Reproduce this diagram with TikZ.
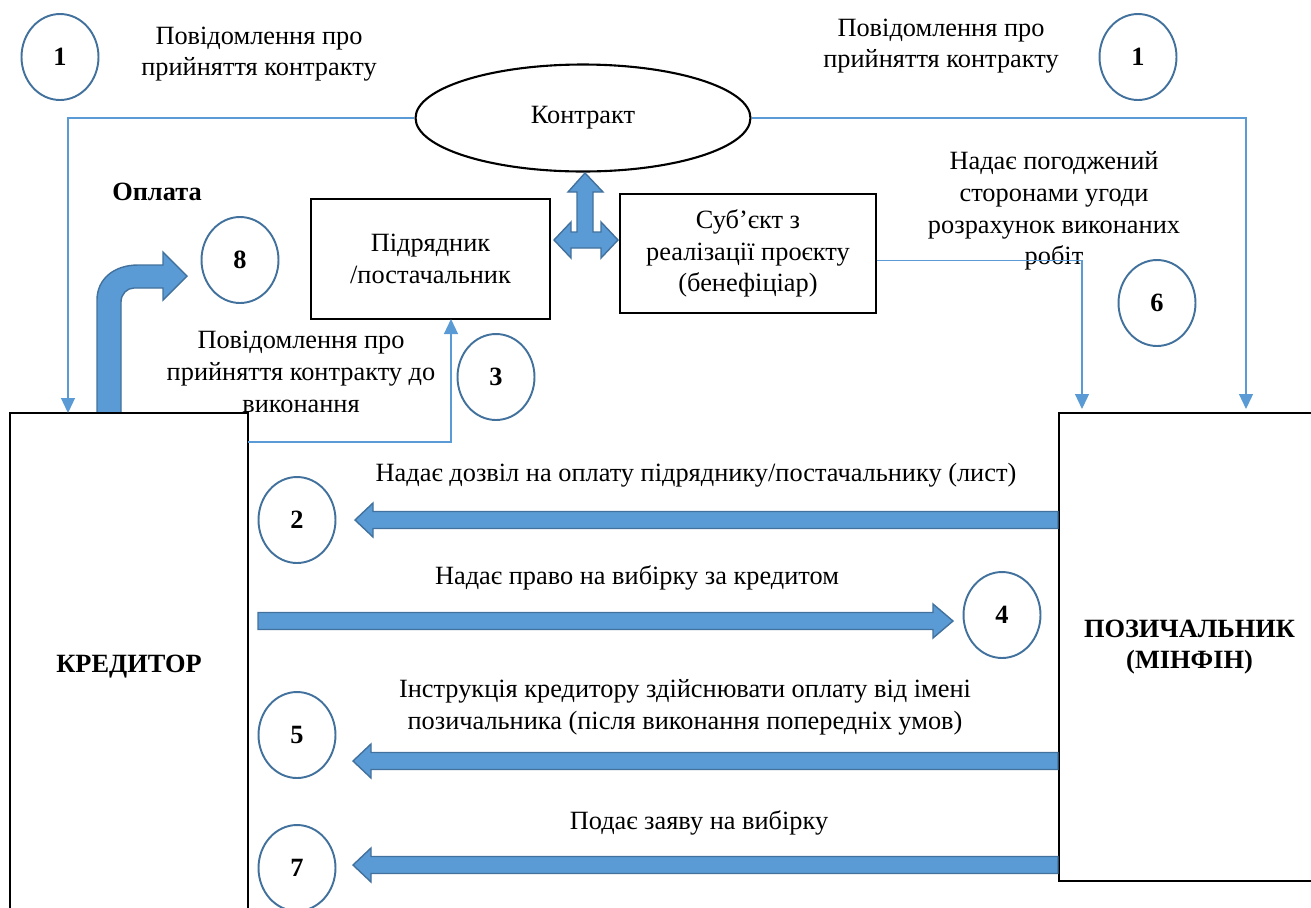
\documentclass[tikz,border=0pt]{standalone}
\usepackage{fontspec}
\setmainfont{Liberation Serif}
\usetikzlibrary{calc,shapes.geometric,arrows.meta}
\definecolor{linkblue}{HTML}{5B9BD5}
\definecolor{ringblue}{HTML}{41719C}
\def\blockarrow(#1)(#2)(#3){\draw[bigarrow] ($(#1)+(0,-8.5)$) -- ($(#2)+(#3,-8.5)$) -- ($(#2)+(#3,-17)$) -- (#2) -- ($(#2)+(#3,17)$) -- ($(#2)+(#3,8.5)$) -- ($(#1)+(0,8.5)$) -- cycle;}
\tikzset{
	numring/.style={ellipse, draw=ringblue, line width=1.1pt, minimum width=1.54cm, minimum height=1.72cm, inner sep=0pt, font=\fontsize{15}{18}\selectfont\bfseries},
	party/.style={rectangle, draw=black, line width=1.2pt, align=center, inner sep=0pt},
	note/.style={align=center, inner sep=0pt},
	link/.style={draw=linkblue, line width=0.7pt, -{Triangle[width=0.28cm,length=0.3cm]}},
	bigarrow/.style={draw=ringblue, fill=linkblue, line width=0.8pt}
}
\begin{document}
\begin{tikzpicture}[x=0.02cm, y=-0.02cm, font=\fontsize{15}{18}\selectfont]
			%%%%% START %%%%%
			\useasboundingbox (0,0) rectangle (1311,907);
			\clip (0,0) rectangle (1311,907);
			
			\node[ellipse, draw=black, line width=1.2pt, minimum width=6.7cm, minimum height=2.14cm, inner sep=0pt] (contract) at (583,118) {Контракт};
			\node[party, minimum width=4.78cm, minimum height=2.4cm] (pid) at (430.5,259) {Підрядник\\/постачальник};
			\node[party, minimum width=5.12cm, minimum height=2.38cm] (sub) at (748,253.5) {Суб’єкт з\\реалізації проєкту\\(бенефіціар)};
			
			\draw[bigarrow] (585,173) -- (603,192) -- (593,192) -- (593,232) -- (601,232) -- (601,222) -- (618,240) -- (601,258) -- (601,248) -- (571,248) -- (571,258) -- (554,240) -- (571,222) -- (571,232) -- (577,232) -- (577,192) -- (568,192) -- cycle;
			
			\draw[bigarrow] (97,413) -- (97,300) .. controls (97,279) and (114,265) .. (138,265) -- (163,265) -- (163,252) -- (187,276) -- (163,300) -- (163,288) -- (134,288) .. controls (127,288) and (121,294) .. (121,302) -- (121,413) -- cycle;
			
			\node[party, minimum width=4.76cm, minimum height=10.14cm, font=\fontsize{15}{18}\selectfont\bfseries] (kr) at (129,666.5) {КРЕДИТОР};
			\node[party, minimum width=5.22cm, minimum height=9.36cm, font=\fontsize{15}{18}\selectfont\bfseries] (pz) at (1189.5,647) {ПОЗИЧАЛЬНИК\\(МІНФІН)};
			
			\node[numring] (n1l) at (60,57) {1};
			\node[numring] (n1r) at (1138,57) {1};
			\node[numring] (n8) at (240,260) {8};
			\node[numring] (n3) at (496,377) {3};
			\node[numring] (n6) at (1157,303) {6};
			\node[numring] (n2) at (297,520) {2};
			\node[numring] (n4) at (1002,615) {4};
			\node[numring] (n5) at (297,735) {5};
			\node[numring] (n7) at (297,868) {7};
			
			\node[note] (msg1l) at (259,54) {Повідомлення про\\прийняття контракту};
			\node[note] (msg1r) at (941,46) {Повідомлення про\\прийняття контракту};
			\node[note, font=\fontsize{15}{18}\selectfont\bfseries] (pay) at (157,192) {Оплата};
			\node[note] (msg3) at (301,372) {Повідомлення про\\прийняття контракту до\\виконання};
			\node[note] (msg6) at (1054,211) {Надає погоджений\\сторонами угоди\\розрахунок виконаних\\робіт};
			\node[note] (msg2) at (696,475) {Надає дозвіл на оплату підряднику/постачальнику (лист)};
			\node[note] (msg4) at (637,578) {Надає право на вибірку за кредитом};
			\node[note] (msg5) at (685,707) {Інструкція кредитору здійснювати оплату від імені\\позичальника (після виконання попередніх умов)};
			\node[note] (msg7) at (699,823) {Подає заяву на вибірку};
			
			\coordinate (krtop) at (68,413);
			\coordinate (pztop) at (1246,409);
			\coordinate (pzin) at (1082,409);
			\coordinate (krout) at (248,442);
			\coordinate (pidin) at (451,319);
			\draw[link] (contract.west) -| (krtop);
			\draw[link] (contract.east) -| (pztop);
			\draw[link] ($(sub.east)+(0,7)$) -| (pzin);
			\draw[link] (krout) -| (pidin);
			
			\coordinate (t2) at (355,520);
			\coordinate (s4) at (258,621);
			\coordinate (t4) at (953,621);
			\coordinate (t5) at (353,761);
			\coordinate (t7) at (353,865);
			\blockarrow(pz.west |- t2)(t2)(18);
			\blockarrow(s4)(t4)(-20);
			\blockarrow(pz.west |- t5)(t5)(18);
			\blockarrow(pz.west |- t7)(t7)(18);
			
			%%%%% END %%%%%
\end{tikzpicture}
\end{document}
